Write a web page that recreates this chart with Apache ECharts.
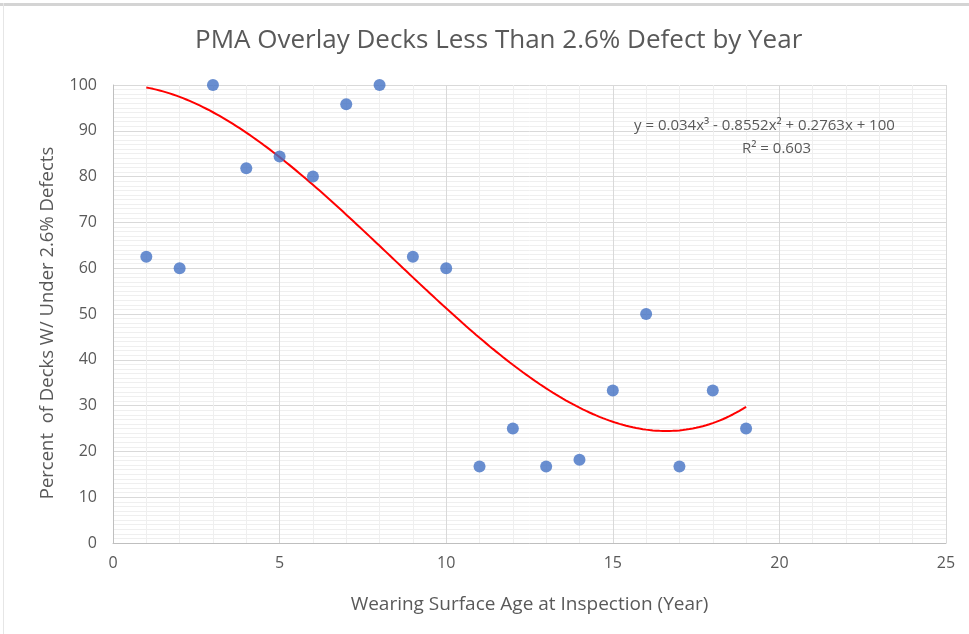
<!DOCTYPE html>
<html>
<head>
<meta charset="utf-8">
<script src="https://cdn.jsdelivr.net/npm/echarts@6/dist/echarts.min.js"></script>
<style>
html,body{margin:0;padding:0;background:#fff;}
#chart{width:969px;height:634px;}
</style>
</head>
<body>
<div id="chart"></div>
<script>
// Inspection age (years) and share of decks with under 2.6% defects
const ages = [1, 2, 3, 4, 5, 6, 7, 8, 9, 10, 11, 12, 13, 14, 15, 16, 17, 18, 19];
const percents = [62.5, 60, 100, 81.8, 84.4, 80, 95.8, 100, 62.5, 60, 16.7, 25, 16.7, 18.2, 33.3, 50, 16.7, 33.3, 25];
// Cubic trendline coefficients: c3, c2, c1, c0
const trendCoef = [0.034, -0.8552, 0.2763, 100];
const trendRange = [1, 19];
const xTicks = [0, 5, 10, 15, 20, 25];
const yTicks = [0, 10, 20, 30, 40, 50, 60, 70, 80, 90, 100];

const points = ages.map((a, i) => [a, percents[i]]);
const trend = [];
for (let k = 0; k <= 180; k++) {
  const x = trendRange[0] + (trendRange[1] - trendRange[0]) * k / 180;
  const y = trendCoef[0] * x * x * x + trendCoef[1] * x * x + trendCoef[2] * x + trendCoef[3];
  trend.push([x, y]);
}

const font = '"Open Sans", Lato, sans-serif';
const txt = '#595959';
const chart = echarts.init(document.getElementById('chart'), null, {renderer: 'canvas'});
chart.setOption({
  animation: false,
  backgroundColor: '#fff',
  title: {
    text: 'PMA Overlay Decks Less Than 2.6% Defect by Year',
    left: 190, top: 23,
    textStyle: {fontFamily: font, fontSize: 26, fontWeight: 'normal', color: txt}
  },
  grid: {left: 113, right: 23, top: 85, bottom: 91, containLabel: false},
  xAxis: {
    type: 'value', min: xTicks[0], max: xTicks[xTicks.length - 1], interval: 5,
    name: 'Wearing Surface Age at Inspection (Year)',
    nameLocation: 'middle', nameGap: 52,
    nameTextStyle: {fontFamily: font, fontSize: 19, color: txt},
    axisLine: {show: true, lineStyle: {color: '#bfbfbf', width: 1}},
    axisTick: {show: false},
    axisLabel: {fontFamily: font, fontSize: 16, color: txt, margin: 12},
    splitLine: {show: true, lineStyle: {color: '#d9d9d9', width: 1}},
    minorTick: {show: false, splitNumber: 5},
    minorSplitLine: {show: true, lineStyle: {color: '#efefef', width: 1}}
  },
  yAxis: {
    type: 'value', min: yTicks[0], max: yTicks[yTicks.length - 1], interval: 10,
    axisLine: {show: true, lineStyle: {color: '#bfbfbf', width: 1}},
    axisTick: {show: false},
    axisLabel: {fontFamily: font, fontSize: 16, color: txt, margin: 16},
    splitLine: {show: true, lineStyle: {color: '#d9d9d9', width: 1}},
    minorTick: {show: false, splitNumber: 10},
    minorSplitLine: {show: true, lineStyle: {color: '#efefef', width: 1}}
  },
  series: [
    {
      type: 'line', data: trend, showSymbol: false, smooth: false, z: 2,
      lineStyle: {color: '#ff0000', width: 2}
    },
    {
      type: 'scatter', data: points, symbolSize: 12, z: 3,
      itemStyle: {color: '#4472c4'}
    }
  ],
  graphic: [
    {type: 'rect', shape: {x: 0, y: 3, width: 969, height: 3}, style: {fill: '#d4d4d4'}},
    {type: 'rect', shape: {x: 3, y: 3, width: 1, height: 631}, style: {fill: '#e6e6e6'}},
    // vertical axis title
    {type: 'text', x: 48, y: 323, rotation: Math.PI / 2, z: 10,
      style: {text: 'Percent  of Decks W/ Under 2.6% Defects', font: '18.5px ' + font, fill: txt,
        align: 'center', verticalAlign: 'middle'}},
    {type: 'text', left: 634, top: 118, z: 10,
      style: {text: 'y = 0.034x³ - 0.8552x² + 0.2763x + 100', font: '15px ' + font, fill: txt}},
    {type: 'text', left: 742, top: 141, z: 10,
      style: {text: 'R² = 0.603', font: '15px ' + font, fill: txt}}
  ]
});
</script>
</body>
</html>
